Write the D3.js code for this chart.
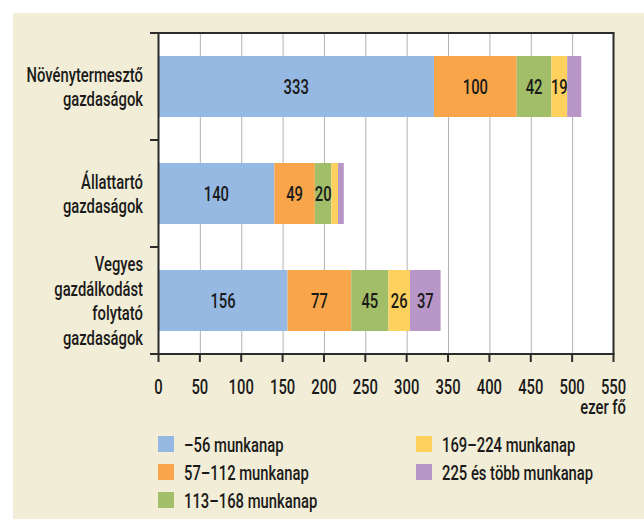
<!DOCTYPE html>
<html><head><meta charset="utf-8">
<script src="https://cdn.jsdelivr.net/npm/d3@7"></script>
<style>
html,body{margin:0;padding:0;background:#fff;}
svg text{font-family:Roboto,"Noto Sans",sans-serif;font-weight:500;fill:#1a1a1a;}
</style></head>
<body>
<svg id="c" width="644" height="519"></svg>
<script>
const categories = [["Növénytermesztő","gazdaságok"],["Állattartó","gazdaságok"],["Vegyes","gazdálkodást","folytató","gazdaságok"]];
const seriesNames = ["–56 munkanap","57–112 munkanap","113–168 munkanap","169–224 munkanap","225 és több munkanap"];
const seriesColors = ["#95B9E2","#F9A64A","#A3BE68","#FED15E","#B897C8"];
const s1 = [333,140,156];
const s2 = [100,49,77];
const s3 = [42,20,45];
const s4 = [19,8,26];
const s5 = [17,7,37];
const xTicks = [0,50,100,150,200,250,300,350,400,450,500,550];
const unitLabel = "ezer fő";

const series = [s1,s2,s3,s4,s5];
const SX = 0.705, FS = 21;
const svg = d3.select("#c");
function txt(g, tx, ty, t, anchor){
  return g.append("text").attr("transform",`translate(${tx},${ty}) scale(${SX},1)`)
    .attr("text-anchor",anchor||"start").attr("dominant-baseline","central")
    .attr("font-size",FS).text(t);
}
svg.append("rect").attr("x",13).attr("y",13).attr("width",631).attr("height",506).attr("fill","#F2EDD6");

const x = d3.scaleLinear().domain([0,550]).range([158.5,613.5]);
const catIdx = categories.map((c,i)=>i);
const y = d3.scaleBand().domain(catIdx).range([33,354]).paddingInner(0.43).paddingOuter(0.215);

svg.append("rect").attr("x",x(0)).attr("y",33).attr("width",x(550)-x(0)).attr("height",321).attr("fill","#fff");

svg.append("g").selectAll("line").data(xTicks.filter(t=>t>0&&t<550)).join("line")
  .attr("x1",d=>x(d)+0.5).attr("x2",d=>x(d)+0.5).attr("y1",33).attr("y2",354)
  .attr("stroke","#B3B3B3").attr("stroke-width",1);

const stack = catIdx.map(i=>{let acc=0;return series.map((s,k)=>{const o={k,i,v:s[i],x0:acc,x1:acc+s[i]};acc+=s[i];return o;});}).flat();
svg.append("g").selectAll("rect").data(stack).join("rect")
  .attr("x",d=>x(d.x0)).attr("width",d=>x(d.x1)-x(d.x0))
  .attr("y",d=>y(d.i)).attr("height",y.bandwidth())
  .attr("fill",d=>seriesColors[d.k]);
const lblG = svg.append("g");
stack.filter(d=>d.v>=18).forEach(d=>txt(lblG,(x(d.x0)+x(d.x1))/2,y(d.i)+y.bandwidth()/2,d.v,"middle"));

const ax = svg.append("g").attr("stroke","#2b2b2b").attr("stroke-width",2).attr("fill","none");
ax.append("line").attr("x1",150).attr("x2",x(550)+1).attr("y1",33).attr("y2",33);
ax.append("line").attr("x1",x(550)).attr("x2",x(550)).attr("y1",33).attr("y2",354);
ax.append("line").attr("x1",x(0)).attr("x2",x(0)).attr("y1",33).attr("y2",354);
ax.append("line").attr("x1",150).attr("x2",x(550)+1).attr("y1",354).attr("y2",354);
ax.selectAll(".xt").data(xTicks).join("line").attr("x1",d=>x(d)).attr("x2",d=>x(d)).attr("y1",354).attr("y2",362);
const step = y.step();
const seps = catIdx.map(i=>y(i)-step*y.paddingInner()/2).concat([y(catIdx.length-1)+y.bandwidth()+step*y.paddingInner()/2]);
ax.selectAll(".yt").data(seps).join("line").attr("x1",150).attr("x2",x(0)).attr("y1",d=>d).attr("y2",d=>d);

const xl = svg.append("g");
xTicks.forEach(d=>txt(xl,x(d),386,d,"middle"));
txt(xl,626,406,unitLabel,"end");

const cl = svg.append("g");
catIdx.forEach(i=>{
  const lines = categories[i];
  const cy = y(i)+y.bandwidth()/2;
  const lh = 24.5;
  lines.forEach((t,j)=>txt(cl,143,cy+(j-(lines.length-1)/2)*lh,t,"end"));
});

const legPos = [[158,444],[158,472],[158,500],[416,444],[416,472]];
const lg = svg.append("g");
seriesNames.forEach((n,k)=>{
  const [lx,ly]=legPos[k];
  lg.append("rect").attr("x",lx).attr("y",ly-8).attr("width",16).attr("height",16).attr("fill",seriesColors[k]);
  txt(lg,lx+26,ly,n,"start");
});
</script>
</body></html>
